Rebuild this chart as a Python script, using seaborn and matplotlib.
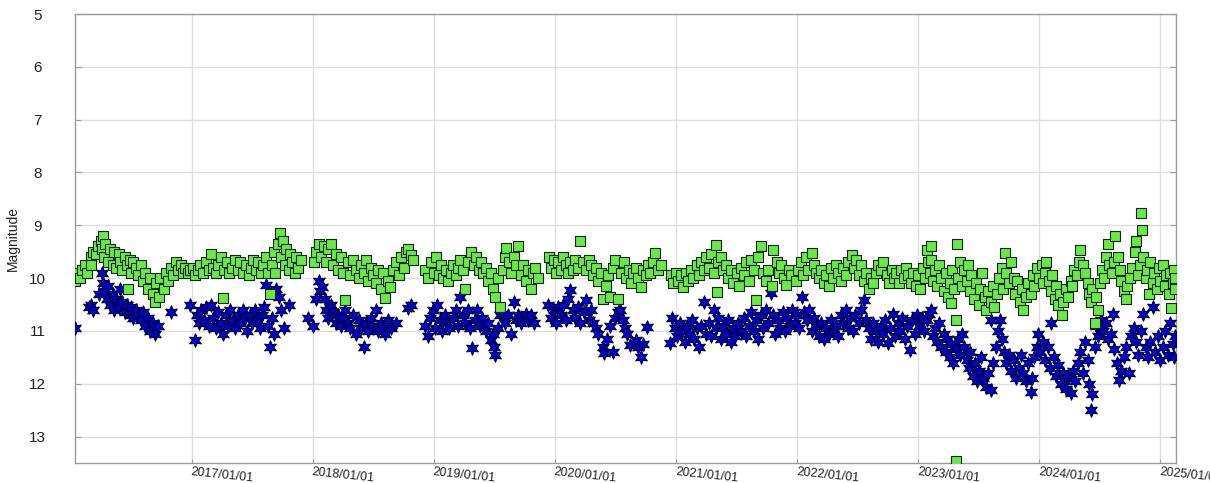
import numpy as np
import pandas as pd
import matplotlib
matplotlib.use("Agg")
import matplotlib.pyplot as plt
import seaborn as sns

# ---------------- data (fractional year, magnitude) ----------------
green_year = [
    2016.04, 2016.04, 2016.06, 2016.08, 2016.10, 2016.12, 2016.14, 2016.17, 2016.17, 2016.19, 2016.21, 2016.23,
    2016.25, 2016.26, 2016.27, 2016.28, 2016.29, 2016.31, 2016.33, 2016.35, 2016.36, 2016.38, 2016.40, 2016.41,
    2016.43, 2016.45, 2016.47, 2016.48, 2016.49, 2016.50, 2016.52, 2016.54, 2016.56, 2016.58, 2016.60, 2016.62,
    2016.64, 2016.66, 2016.68, 2016.70, 2016.71, 2016.73, 2016.74, 2016.77, 2016.79, 2016.81, 2016.83, 2016.85,
    2016.87, 2016.89, 2016.91, 2016.93, 2016.95, 2016.97, 2016.99,
    2017.01, 2017.03, 2017.05, 2017.07, 2017.09, 2017.12, 2017.14, 2017.16, 2017.18, 2017.20, 2017.22, 2017.24,
    2017.26, 2017.27, 2017.29, 2017.31, 2017.33, 2017.36, 2017.38, 2017.40, 2017.42, 2017.45, 2017.47, 2017.49,
    2017.51, 2017.53, 2017.55, 2017.57, 2017.59, 2017.61, 2017.63, 2017.65, 2017.66, 2017.68, 2017.69, 2017.71,
    2017.73, 2017.74, 2017.75, 2017.77, 2017.78, 2017.80, 2017.81, 2017.83, 2017.85, 2017.86, 2017.88, 2017.90,
    2018.01, 2018.03, 2018.05, 2018.07, 2018.09, 2018.11, 2018.13, 2018.15, 2018.17, 2018.19, 2018.21, 2018.23,
    2018.25, 2018.27, 2018.29, 2018.31, 2018.33, 2018.36, 2018.38, 2018.40, 2018.42, 2018.44, 2018.46, 2018.48,
    2018.50, 2018.52, 2018.54, 2018.56, 2018.58, 2018.60, 2018.62, 2018.64, 2018.66, 2018.69, 2018.71, 2018.73,
    2018.75, 2018.77, 2018.79, 2018.81, 2018.83,
    2018.93, 2018.95, 2018.98, 2019.00, 2019.02, 2019.04, 2019.06, 2019.08, 2019.10, 2019.12, 2019.14, 2019.16,
    2019.18, 2019.20, 2019.22, 2019.24, 2019.26, 2019.28, 2019.31, 2019.33, 2019.35, 2019.37, 2019.39, 2019.41,
    2019.43, 2019.45, 2019.47, 2019.49, 2019.51, 2019.53, 2019.55, 2019.57, 2019.59, 2019.60, 2019.62, 2019.64,
    2019.66, 2019.68, 2019.70, 2019.72, 2019.74, 2019.76, 2019.78, 2019.80, 2019.82, 2019.84, 2019.86,
    2019.95, 2019.97, 2019.99, 2020.01, 2020.03, 2020.05, 2020.07, 2020.09, 2020.11, 2020.13, 2020.15, 2020.17,
    2020.19, 2020.21, 2020.23, 2020.26, 2020.28, 2020.30, 2020.32, 2020.34, 2020.36, 2020.38, 2020.40, 2020.42,
    2020.44, 2020.46, 2020.48, 2020.50, 2020.52, 2020.55, 2020.57, 2020.59, 2020.61, 2020.63, 2020.65, 2020.67,
    2020.69, 2020.71, 2020.73, 2020.75, 2020.77, 2020.79, 2020.81, 2020.83, 2020.85, 2020.88,
    2020.96, 2020.98, 2021.00, 2021.02, 2021.04, 2021.06, 2021.08, 2021.10, 2021.12, 2021.14, 2021.17, 2021.19,
    2021.21, 2021.23, 2021.25, 2021.27, 2021.29, 2021.31, 2021.33, 2021.34, 2021.35, 2021.37, 2021.39, 2021.41,
    2021.43, 2021.45, 2021.47, 2021.50, 2021.52, 2021.54, 2021.56, 2021.58, 2021.60, 2021.62, 2021.64, 2021.66,
    2021.68, 2021.70, 2021.72, 2021.74, 2021.76, 2021.79, 2021.80, 2021.83, 2021.85, 2021.87, 2021.89, 2021.91,
    2021.93, 2021.95,
    2021.99, 2022.01, 2022.03, 2022.05, 2022.07, 2022.09, 2022.12, 2022.14, 2022.16, 2022.18, 2022.20, 2022.22,
    2022.24, 2022.26, 2022.28, 2022.30, 2022.32, 2022.34, 2022.36, 2022.38, 2022.40, 2022.42, 2022.45, 2022.47,
    2022.49, 2022.51, 2022.53, 2022.55, 2022.57, 2022.59, 2022.61, 2022.63, 2022.65, 2022.67, 2022.69, 2022.71,
    2022.74, 2022.76, 2022.78, 2022.80, 2022.82, 2022.84, 2022.86, 2022.88, 2022.90, 2022.92, 2022.94, 2022.96,
    2022.98,
    2023.00, 2023.02, 2023.04, 2023.06, 2023.07, 2023.08, 2023.10, 2023.11, 2023.11, 2023.12, 2023.14, 2023.16,
    2023.17, 2023.19, 2023.21, 2023.23, 2023.25, 2023.26, 2023.27, 2023.28, 2023.30, 2023.31, 2023.32, 2023.33,
    2023.35, 2023.36, 2023.38, 2023.40, 2023.41, 2023.43, 2023.44, 2023.46, 2023.48, 2023.50, 2023.51, 2023.53,
    2023.55, 2023.56, 2023.58, 2023.60, 2023.62, 2023.63, 2023.65, 2023.67, 2023.69, 2023.70, 2023.72, 2023.73,
    2023.75, 2023.77, 2023.79, 2023.80, 2023.82, 2023.84, 2023.86, 2023.87, 2023.89, 2023.91, 2023.93, 2023.95,
    2023.96, 2023.98,
    2024.00, 2024.02, 2024.03, 2024.05, 2024.06, 2024.08, 2024.10, 2024.11, 2024.13, 2024.14, 2024.16, 2024.17,
    2024.19, 2024.20, 2024.22, 2024.24, 2024.26, 2024.27, 2024.29, 2024.31, 2024.33, 2024.34, 2024.36, 2024.38,
    2024.40, 2024.41, 2024.43, 2024.44, 2024.46, 2024.47, 2024.49, 2024.50, 2024.52, 2024.54, 2024.55, 2024.57,
    2024.58, 2024.60, 2024.62, 2024.63, 2024.65, 2024.67, 2024.68, 2024.70, 2024.72, 2024.73, 2024.75, 2024.77,
    2024.79, 2024.80, 2024.82, 2024.83, 2024.84, 2024.85, 2024.86, 2024.88, 2024.89, 2024.91, 2024.92, 2024.94,
    2024.95, 2024.97, 2024.99, 2025.00, 2025.02, 2025.04, 2025.05, 2025.07, 2025.08, 2025.09, 2025.10, 2025.11,
    2025.12, 2025.12,
    2023.31,
]
green_mag = [
    9.95, 10.05, 9.90, 10.00, 9.85, 9.75, 9.90, 9.60, 9.75, 9.50, 9.55, 9.40,
    9.30, 9.45, 9.20, 9.60, 9.35, 9.70, 9.45, 9.75, 9.50, 9.80, 9.55, 9.70,
    9.85, 9.60, 9.75, 10.20, 9.65, 9.90, 9.70, 9.80, 9.95, 9.75, 10.05, 9.90,
    10.20, 10.00, 10.30, 10.45, 10.10, 10.35, 10.00, 10.20, 9.90, 10.05, 9.80, 9.95,
    9.70, 9.85, 9.75, 9.90, 9.80, 9.90, 9.85,
    9.80, 9.95, 9.85, 9.75, 9.90, 9.70, 9.85, 9.55, 9.80, 9.90, 9.75, 9.60,
    10.38, 9.85, 9.70, 9.90, 9.80, 9.65, 9.85, 9.70, 9.90, 9.75, 9.95, 9.80,
    9.65, 9.85, 9.70, 9.90, 9.75, 9.60, 9.90, 10.30, 9.75, 9.50, 9.90, 9.35,
    9.15, 9.60, 9.30, 9.75, 9.45, 9.85, 9.55, 9.70, 9.90, 9.60, 9.80, 9.65,
    9.70, 9.50, 9.35, 9.60, 9.40, 9.70, 9.45, 9.35, 9.75, 9.55, 9.85, 9.60,
    9.90, 10.42, 9.70, 9.95, 9.65, 9.85, 10.00, 9.75, 9.90, 9.65, 10.05, 9.80,
    9.95, 10.10, 9.85, 10.20, 9.90, 10.38, 10.05, 10.17, 9.85, 9.70, 9.95, 9.60,
    9.80, 9.50, 9.45, 9.56, 9.65,
    9.85, 10.00, 9.70, 9.90, 9.60, 9.95, 9.75, 10.00, 9.85, 10.05, 9.90, 9.75,
    9.95, 9.80, 9.65, 9.85, 10.20, 9.70, 9.50, 9.75, 9.60, 9.85, 9.70, 9.90,
    9.80, 10.05, 9.90, 10.20, 10.35, 10.00, 10.55, 9.85, 9.60, 9.43, 9.70, 9.90,
    9.60, 9.75, 9.40, 9.95, 9.75, 10.05, 9.85, 10.20, 9.90, 9.80, 10.00,
    9.60, 9.80, 9.65, 9.90, 9.70, 9.85, 9.60, 9.75, 9.90, 9.70, 9.85, 9.65,
    9.80, 9.30, 9.70, 9.85, 9.65, 9.75, 9.95, 9.80, 10.05, 9.90, 10.40, 10.15,
    9.95, 10.35, 9.80, 9.65, 10.40, 9.90, 9.70, 10.00, 9.85, 10.10, 9.90, 9.80,
    10.00, 10.17, 9.85, 9.95, 9.75, 9.90, 9.70, 9.53, 9.85, 9.75,
    9.95, 10.10, 9.90, 10.05, 9.95, 10.17, 9.90, 10.05, 9.85, 10.00, 9.75, 9.95,
    9.70, 9.85, 9.60, 9.80, 9.55, 9.90, 9.37, 10.26, 9.70, 9.60, 9.85, 9.75,
    10.00, 9.85, 10.10, 9.90, 10.15, 9.80, 9.95, 9.70, 10.05, 9.65, 9.85, 10.42,
    9.60, 9.40, 9.90, 10.05, 9.85, 10.15, 9.47, 9.70, 9.90, 9.75, 10.00, 10.13,
    9.85, 9.95,
    10.05, 9.85, 9.70, 9.95, 9.60, 9.85, 9.53, 9.75, 9.90, 10.00, 9.85, 10.10,
    9.95, 10.15, 9.80, 10.00, 9.75, 9.90, 10.05, 9.80, 9.95, 9.70, 9.57, 9.80,
    9.65, 9.95, 9.75, 10.05, 9.90, 10.20, 10.00, 10.10, 9.90, 9.75, 9.85, 9.70,
    9.95, 10.10, 9.85, 10.00, 9.90, 10.10, 9.85, 10.00, 9.80, 9.95, 10.10, 9.90,
    10.15,
    9.95, 10.20, 9.80, 10.00, 9.47, 9.70, 9.90, 9.40, 9.65, 10.05, 9.85, 10.15,
    9.75, 10.00, 10.25, 9.90, 10.35, 10.10, 10.47, 9.85, 10.20, 10.80, 9.35, 10.00,
    9.70, 10.15, 9.85, 10.05, 9.75, 10.25, 9.95, 10.40, 10.10, 10.50, 10.20, 9.90,
    10.35, 10.60, 10.25, 10.45, 10.15, 10.55, 10.30, 10.00, 9.80, 10.20, 9.53, 9.90,
    10.10, 9.70, 10.00, 10.30, 10.05, 10.45, 10.20, 10.60, 10.35, 10.10, 10.30, 9.95,
    10.15, 9.80,
    10.00, 9.75, 10.10, 9.90, 9.70, 10.05, 10.25, 9.95, 10.40, 10.15, 10.50, 10.30,
    10.70, 10.45, 10.20, 10.35, 10.05, 10.15, 9.85, 9.95, 9.70, 9.47, 9.75, 9.90,
    10.10, 10.30, 10.45, 10.20, 10.85, 10.35, 10.60, 10.10, 9.85, 10.00, 9.60, 9.35,
    9.75, 9.90, 9.70, 9.20, 9.60, 9.85, 10.05, 10.25, 10.40, 10.15, 10.00, 9.80,
    9.50, 9.30, 9.95, 9.75, 8.77, 9.09, 9.60, 10.00, 9.85, 10.30, 9.70, 10.10,
    9.90, 10.20, 9.80, 10.05, 9.75, 10.15, 9.95, 10.30, 9.90, 10.57, 10.10, 9.85,
    10.20, 10.00,
    13.47,
]

blue_year = [
    2016.04, 2016.15, 2016.17, 2016.19, 2016.24, 2016.26, 2016.27, 2016.28, 2016.30, 2016.31, 2016.33, 2016.35,
    2016.36, 2016.38, 2016.40, 2016.41, 2016.43, 2016.45, 2016.47, 2016.49, 2016.50, 2016.52, 2016.54, 2016.56,
    2016.58, 2016.60, 2016.62, 2016.64, 2016.66, 2016.68, 2016.70, 2016.72, 2016.83,
    2016.99, 2017.03, 2017.04, 2017.06, 2017.08, 2017.10, 2017.12, 2017.14, 2017.16, 2017.18, 2017.20, 2017.22,
    2017.24, 2017.26, 2017.28, 2017.30, 2017.32, 2017.34, 2017.36, 2017.38, 2017.40, 2017.42, 2017.44, 2017.46,
    2017.48, 2017.50, 2017.52, 2017.54, 2017.56, 2017.58, 2017.60, 2017.61, 2017.63, 2017.65, 2017.66, 2017.68,
    2017.70, 2017.72, 2017.74, 2017.76, 2017.80,
    2017.96, 2018.00, 2018.03, 2018.05, 2018.06, 2018.08, 2018.10, 2018.11, 2018.13, 2018.15, 2018.17, 2018.19,
    2018.21, 2018.23, 2018.25, 2018.27, 2018.29, 2018.31, 2018.33, 2018.36, 2018.38, 2018.40, 2018.42, 2018.44,
    2018.46, 2018.48, 2018.50, 2018.52, 2018.54, 2018.56, 2018.58, 2018.60, 2018.62, 2018.65, 2018.69, 2018.79,
    2018.81,
    2018.93, 2018.95, 2018.97, 2018.99, 2019.01, 2019.03, 2019.05, 2019.07, 2019.09, 2019.11, 2019.13, 2019.16,
    2019.18, 2019.20, 2019.22, 2019.24, 2019.26, 2019.28, 2019.30, 2019.32, 2019.34, 2019.36, 2019.38, 2019.40,
    2019.43, 2019.45, 2019.47, 2019.49, 2019.50, 2019.51, 2019.53, 2019.55, 2019.57, 2019.59, 2019.61, 2019.64,
    2019.66, 2019.68, 2019.70, 2019.72, 2019.74, 2019.76, 2019.78, 2019.80, 2019.83,
    2019.94, 2019.97, 2019.99, 2020.01, 2020.03, 2020.05, 2020.07, 2020.09, 2020.11, 2020.13, 2020.15, 2020.17,
    2020.19, 2020.21, 2020.24, 2020.26, 2020.28, 2020.30, 2020.32, 2020.34, 2020.36, 2020.40, 2020.41, 2020.43,
    2020.46, 2020.48, 2020.50, 2020.52, 2020.54, 2020.56, 2020.58, 2020.60, 2020.62, 2020.67, 2020.69, 2020.71,
    2020.73, 2020.76,
    2020.95, 2020.97, 2020.99, 2021.01, 2021.03, 2021.05, 2021.07, 2021.09, 2021.11, 2021.13, 2021.15, 2021.17,
    2021.19, 2021.21, 2021.23, 2021.25, 2021.27, 2021.29, 2021.31, 2021.33, 2021.35, 2021.37, 2021.39, 2021.41,
    2021.43, 2021.45, 2021.47, 2021.49, 2021.51, 2021.54, 2021.56, 2021.58, 2021.60, 2021.62, 2021.64, 2021.66,
    2021.68, 2021.70, 2021.72, 2021.74, 2021.76, 2021.78, 2021.80, 2021.82, 2021.84, 2021.86, 2021.88, 2021.90,
    2021.92, 2021.94, 2021.96,
    2021.98, 2022.00, 2022.02, 2022.04, 2022.06, 2022.08, 2022.10, 2022.12, 2022.14, 2022.16, 2022.18, 2022.20,
    2022.22, 2022.24, 2022.26, 2022.28, 2022.30, 2022.32, 2022.34, 2022.36, 2022.38, 2022.40, 2022.42, 2022.44,
    2022.46, 2022.48, 2022.51, 2022.53, 2022.55, 2022.57, 2022.59, 2022.61, 2022.63, 2022.65, 2022.67, 2022.69,
    2022.71, 2022.73, 2022.75, 2022.77, 2022.79, 2022.81, 2022.83, 2022.85, 2022.87, 2022.89, 2022.91, 2022.93,
    2022.95, 2022.97,
    2022.99, 2023.01, 2023.03, 2023.05, 2023.07, 2023.09, 2023.11, 2023.12, 2023.14, 2023.16, 2023.17, 2023.19,
    2023.21, 2023.23, 2023.24, 2023.26, 2023.27, 2023.29, 2023.31, 2023.33, 2023.35, 2023.36, 2023.38, 2023.40,
    2023.42, 2023.43, 2023.45, 2023.47, 2023.49, 2023.50, 2023.52, 2023.54, 2023.56, 2023.58, 2023.60, 2023.60,
    2023.62, 2023.64, 2023.66, 2023.68, 2023.69, 2023.71, 2023.73, 2023.75, 2023.77, 2023.79, 2023.81, 2023.83,
    2023.85, 2023.87, 2023.89, 2023.91, 2023.93, 2023.94, 2023.96, 2023.98,
    2023.99, 2024.01, 2024.03, 2024.05, 2024.07, 2024.09, 2024.10, 2024.12, 2024.14, 2024.16, 2024.18, 2024.20,
    2024.22, 2024.24, 2024.26, 2024.28, 2024.30, 2024.32, 2024.34, 2024.36, 2024.38, 2024.40, 2024.41, 2024.43,
    2024.44, 2024.46, 2024.47, 2024.49, 2024.51, 2024.53, 2024.55, 2024.57, 2024.59, 2024.61, 2024.62, 2024.64,
    2024.66, 2024.68, 2024.70, 2024.72, 2024.74, 2024.76, 2024.78, 2024.80, 2024.82, 2024.84, 2024.86, 2024.88,
    2024.90, 2024.92, 2024.94, 2024.96, 2024.98, 2025.00, 2025.02, 2025.04, 2025.06, 2025.08, 2025.10, 2025.11,
    2025.12,
]
blue_mag = [
    10.95, 10.55, 10.50, 10.60, 10.30, 9.90, 10.10, 10.25, 10.40, 10.15, 10.50, 10.30,
    10.60, 10.40, 10.55, 10.20, 10.45, 10.65, 10.50, 10.70, 10.55, 10.75, 10.60, 10.70,
    10.80, 10.65, 10.90, 10.75, 11.00, 10.85, 11.05, 10.90, 10.65,
    10.50, 11.17, 10.70, 10.85, 10.60, 10.80, 10.55, 10.90, 10.50, 10.75, 10.95, 10.65,
    10.85, 11.05, 10.70, 10.90, 10.60, 10.80, 10.95, 10.70, 10.85, 10.60, 10.75, 11.00,
    10.70, 10.85, 10.60, 10.80, 10.95, 10.70, 10.55, 10.13, 10.90, 11.30, 10.75, 11.05,
    10.20, 10.35, 10.60, 10.95, 10.50,
    10.75, 10.90, 10.40, 10.05, 10.25, 10.17, 10.40, 10.60, 10.75, 10.50, 10.65, 10.85,
    10.70, 10.90, 10.75, 10.60, 10.85, 10.95, 10.70, 11.05, 10.80, 10.95, 11.30, 10.85,
    11.00, 10.75, 10.90, 10.60, 11.00, 10.85, 10.95, 11.05, 10.80, 10.95, 10.85, 10.57,
    10.50,
    10.90, 11.10, 10.75, 10.60, 10.95, 10.50, 10.80, 11.00, 10.70, 10.85, 10.95, 10.75,
    10.60, 10.90, 10.35, 10.70, 10.85, 10.60, 10.95, 11.33, 10.80, 10.60, 10.90, 10.75,
    11.00, 10.85, 11.17, 11.05, 11.30, 11.45, 10.95, 10.70, 10.67, 10.85, 10.70, 11.05,
    10.45, 10.80, 10.70, 10.85, 10.75, 10.67, 10.80, 10.70, 10.85,
    10.50, 10.75, 10.60, 10.85, 10.55, 10.70, 10.50, 10.80, 10.40, 10.23, 10.60, 10.75,
    10.55, 10.85, 10.65, 10.42, 10.80, 10.60, 10.85, 10.95, 11.05, 11.30, 11.42, 11.15,
    10.90, 11.40, 10.75, 10.65, 10.60, 10.80, 10.95, 11.05, 11.27, 11.17, 11.30, 11.50,
    11.25, 10.93,
    11.23, 10.75, 10.95, 11.10, 10.85, 11.00, 11.20, 10.90, 11.05, 10.80, 11.15, 10.95,
    11.30, 10.90, 10.45, 11.05, 10.85, 11.10, 10.60, 10.95, 10.75, 11.15, 10.90, 11.05,
    10.80, 11.20, 10.95, 11.10, 10.85, 11.00, 10.75, 11.10, 10.90, 10.65, 11.00, 10.80,
    11.15, 10.70, 10.95, 10.60, 10.85, 10.28, 10.70, 11.05, 10.80, 10.95, 10.65, 11.00,
    10.75, 10.90, 10.60,
    10.85, 10.70, 10.95, 10.35, 10.65, 10.80, 10.60, 11.00, 10.75, 10.90, 11.10, 10.85,
    11.15, 10.95, 11.05, 10.80, 11.00, 10.90, 11.10, 10.70, 10.85, 10.60, 10.95, 10.75,
    11.00, 10.70, 10.85, 10.60, 10.42, 10.80, 10.95, 11.15, 10.85, 11.00, 11.20, 10.90,
    11.05, 10.80, 11.23, 10.95, 10.67, 11.10, 10.85, 11.00, 10.75, 11.15, 10.90, 11.37,
    10.80, 11.05,
    10.70, 10.90, 10.75, 11.00, 10.80, 10.67, 10.60, 11.10, 10.95, 11.20, 10.85, 11.30,
    11.05, 11.40, 11.15, 11.50, 11.25, 11.60, 11.35, 11.15, 11.45, 11.05, 11.30, 11.55,
    11.70, 11.40, 11.85, 11.60, 11.95, 11.75, 11.50, 11.90, 12.07, 11.80, 12.12, 10.80,
    11.60, 11.30, 11.00, 10.80, 11.15, 11.40, 11.60, 11.45, 11.75, 11.55, 11.90, 11.70,
    11.45, 11.80, 11.95, 11.60, 12.15, 11.90, 11.50, 11.30,
    11.05, 11.40, 11.20, 11.55, 11.30, 11.70, 10.85, 11.50, 11.85, 11.65, 12.00, 11.80,
    12.10, 11.90, 12.18, 11.75, 11.95, 11.60, 11.40, 11.80, 11.20, 11.55, 12.00, 12.50,
    12.20, 11.30, 10.90, 11.10, 10.80, 11.00, 10.85, 11.15, 11.05, 10.67, 11.35, 11.60,
    11.93, 11.75, 11.50, 11.30, 11.80, 11.10, 10.95, 11.20, 11.45, 11.00, 10.67, 11.30,
    11.50, 11.20, 10.55, 11.40, 11.10, 11.55, 11.30, 11.00, 11.45, 10.85, 11.25, 11.50,
    11.10,
]

year_ticks = [2017, 2018, 2019, 2020, 2021, 2022, 2023, 2024, 2025]
mag_ticks = [5, 6, 7, 8, 9, 10, 11, 12, 13]


def frac_to_date(y):
    y = np.asarray(y, dtype=float)
    start = pd.to_datetime([f"{int(v)}-01-01" for v in np.floor(y)])
    return start + pd.to_timedelta((y - np.floor(y)) * 365.25, unit="D")


green_df = pd.DataFrame({"date": frac_to_date(green_year), "mag": green_mag})
blue_df = pd.DataFrame({"date": frac_to_date(blue_year), "mag": blue_mag})

# ---------------- style ----------------
sns.set_style("white")
plt.rcParams["font.family"] = ["Liberation Sans", "DejaVu Sans"]

fig = plt.figure(figsize=(12.10, 4.83), dpi=100)
ax = fig.add_axes([75 / 1210, 20 / 483, (1176 - 75) / 1210, (463 - 14) / 483])

star6 = (6, 1, 0)
sns.scatterplot(data=blue_df, x="date", y="mag", ax=ax, marker=star6, s=95,
                color="#0000d0", edgecolor="#000022", linewidth=0.7, zorder=3, legend=False)
sns.scatterplot(data=green_df, x="date", y="mag", ax=ax, marker="s", s=58,
                color="#6ae84a", edgecolor="#0f2a08", linewidth=0.8, zorder=4, legend=False)

# axes
ax.set_ylim(13.5, 5.0)
ax.set_xlim(pd.Timestamp("2016-01-15"), pd.Timestamp("2025-02-17"))
ax.set_yticks(mag_ticks)
ax.set_yticklabels([str(m) for m in mag_ticks])
tick_dates = [pd.Timestamp(f"{y}-01-01") for y in year_ticks]
ax.set_xticks(tick_dates)
ax.set_xticklabels([f"{y}/01/01" for y in year_ticks], rotation=-6, ha="left",
                   va="top", rotation_mode="anchor")

ax.grid(True, color="#dedede", linewidth=1.0, zorder=0)
ax.set_axisbelow(True)
for sp in ax.spines.values():
    sp.set_color("#9a9a9a")
    sp.set_linewidth(1.0)

ax.tick_params(axis="y", direction="in", length=4, color="#9a9a9a", left=True, right=True,
               labelsize=11, labelcolor="#222222", pad=27)
for lab in ax.get_yticklabels():
    lab.set_horizontalalignment("center")
ax.tick_params(axis="x", direction="in", length=3, color="#9a9a9a", bottom=True,
               labelsize=9, labelcolor="#222222", pad=2)

ax.set_xlabel("")
ax.set_ylabel("Magnitude", fontsize=10, color="#222222")
ax.yaxis.set_label_coords(-0.050, 0.5)

fig.savefig("out.png", dpi=100)
